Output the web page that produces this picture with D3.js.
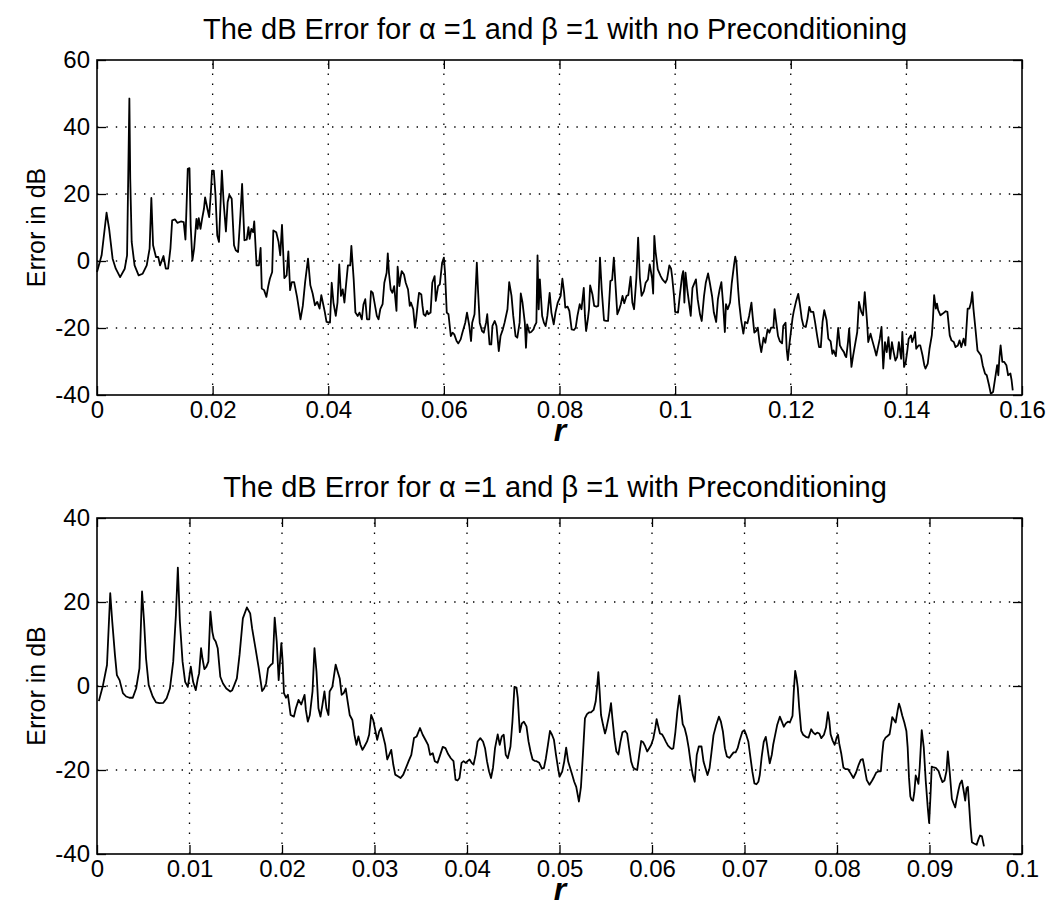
<!DOCTYPE html>
<html>
<head>
<meta charset="utf-8">
<script src="https://cdn.jsdelivr.net/npm/d3@7"></script>
<style>
body{margin:0;background:#fff}
text{font-family:"Liberation Sans",Arial,Helvetica,sans-serif;fill:#000}
</style>
</head>
<body>
<svg id="fig" width="1053" height="907"></svg>
<script>
// tick values for both panels
const topXTicks = [0, 0.02, 0.04, 0.06, 0.08, 0.1, 0.12, 0.14, 0.16];
const topYTicks = [-40, -20, 0, 20, 40, 60];
const botXTicks = [0, 0.01, 0.02, 0.03, 0.04, 0.05, 0.06, 0.07, 0.08, 0.09, 0.1];
const botYTicks = [-40, -20, 0, 20, 40];

const topTitle = "The dB Error for \u03b1 =1 and \u03b2 =1 with no Preconditioning";
const botTitle = "The dB Error for \u03b1 =1 and \u03b2 =1 with Preconditioning";

// [r, error in dB], no preconditioning
const noPrecond = [
[0.0000,-3.3],[0.0008,1.7],[0.00165,14.4],[0.0021,9.6],[0.0027,0.7],[0.00325,-2.3],[0.0040,-4.8],[0.0048,-2.3],
[0.0052,1.7],[0.0056,48.5],[0.00575,24.5],[0.0060,5.7],[0.0065,-1.3],[0.0072,-4.3],[0.0079,-3.8],[0.0086,-1.3],
[0.0091,3.7],[0.0094,18.8],[0.0097,4.7],[0.0102,1.2],[0.0106,1.2],[0.0109,-1.3],[0.0115,1.5],[0.0119,-2.3],
[0.0123,-2.3],[0.0127,3.7],[0.0130,12.1],[0.0135,12.4],[0.0139,11.4],[0.0145,11.8],[0.0150,11.6],[0.0153,6.4],
[0.0157,27.5],[0.0160,27.7],[0.0162,10.6],[0.0165,0.2],[0.0168,3.7],[0.0172,12.6],[0.0174,9.6],[0.0176,12.8],
[0.0179,9.6],[0.0182,12.8],[0.0185,15.6],[0.0187,19.0],[0.0191,15.6],[0.0194,13.1],[0.0197,20.5],[0.0199,27.0],
[0.0202,27.0],[0.0205,19.5],[0.0208,7.6],[0.0211,5.7],[0.0216,27.0],[0.0219,17.6],[0.0223,8.8],[0.0226,17.6],
[0.0229,19.7],[0.0233,18.6],[0.0237,4.7],[0.0240,3.2],[0.0244,2.7],[0.0248,13.6],[0.0251,23.0],[0.0255,6.2],
[0.0259,6.4],[0.0262,10.1],[0.0264,6.6],[0.0267,9.6],[0.0270,8.6],[0.0272,11.8],[0.0276,-1.3],[0.0280,-1.3],
[0.0283,3.9],[0.0285,-8.2],[0.0289,-8.7],[0.0293,-10.7],[0.0296,-7.7],[0.0299,-5.3],[0.0303,-3.3],[0.0305,9.1],
[0.0310,8.6],[0.0314,5.7],[0.0317,1.7],[0.0320,10.8],[0.0324,-5.1],[0.0328,-4.3],[0.0331,2.9],[0.0334,-8.7],
[0.0337,-6.3],[0.0341,-6.3],[0.0346,-10.7],[0.0352,-17.4],[0.0356,-13.4],[0.0360,-6.3],[0.0365,0.7],[0.0369,-7.2],
[0.0373,-9.7],[0.0377,-13.2],[0.0381,-12.2],[0.0385,-14.2],[0.0388,-10.2],[0.0391,-12.7],[0.0394,-15.2],[0.0397,-18.2],
[0.0403,-18.4],[0.0406,-6.5],[0.0409,-12.4],[0.0413,-16.4],[0.0416,-12.4],[0.0419,-1.0],[0.0422,-10.4],[0.0425,-8.5],
[0.0428,-12.4],[0.0430,-8.5],[0.0434,-1.3],[0.0438,-1.3],[0.0440,4.5],[0.0444,-5.5],[0.0447,-15.4],[0.0451,-16.4],
[0.0454,-15.4],[0.0458,-17.4],[0.0461,-12.9],[0.0464,-11.4],[0.0467,-17.4],[0.0471,-17.4],[0.0474,-9.0],[0.0477,-9.5],
[0.0480,-12.4],[0.0484,-16.4],[0.0487,-17.4],[0.0490,-14.4],[0.0494,-12.9],[0.0497,-6.5],[0.0501,-3.5],[0.0503,2.3],
[0.0505,-3.5],[0.0508,-8.5],[0.0511,-9.5],[0.0514,-7.5],[0.0518,-14.9],[0.0520,-1.7],[0.0523,-7.5],[0.0525,-5.0],
[0.0527,-3.0],[0.0531,-4.0],[0.0534,-6.5],[0.0538,-8.5],[0.0541,-13.4],[0.0543,-12.4],[0.0547,-14.4],[0.0550,-19.9],
[0.0552,-17.4],[0.0555,-12.4],[0.0557,-9.5],[0.0561,-10.0],[0.0563,-13.4],[0.0565,-15.9],[0.0568,-16.4],[0.0571,-14.9],
[0.0573,-15.9],[0.0577,-15.4],[0.0580,-6.5],[0.0584,-4.5],[0.0586,-11.9],[0.0590,-7.5],[0.0593,-7.0],[0.0597,-0.5],
[0.0600,1.0],[0.0602,-3.5],[0.0605,-15.4],[0.0608,-15.9],[0.0612,-22.4],[0.0615,-21.4],[0.0618,-21.9],[0.0622,-23.9],
[0.0625,-24.6],[0.0629,-23.4],[0.0632,-21.4],[0.0637,-18.4],[0.0640,-15.4],[0.0644,-19.4],[0.0647,-23.9],[0.0649,-18.4],
[0.0653,-15.9],[0.0657,-0.5],[0.0659,-8.5],[0.0662,-18.4],[0.0666,-20.9],[0.0669,-21.4],[0.0673,-18.4],[0.0675,-15.9],
[0.0679,-24.9],[0.0682,-24.9],[0.0684,-19.4],[0.0688,-17.9],[0.0691,-19.4],[0.0695,-26.9],[0.0698,-22.4],[0.0702,-20.4],
[0.0705,-18.4],[0.0710,-14.4],[0.0713,-6.3],[0.0717,-10.4],[0.0720,-16.4],[0.0724,-22.4],[0.0727,-22.9],[0.0731,-18.4],
[0.0733,-9.7],[0.0736,-12.4],[0.0740,-18.4],[0.0742,-25.9],[0.0744,-18.9],[0.0748,-21.4],[0.0751,-21.2],[0.0755,-20.4],
[0.0757,-19.4],[0.0760,-18.4],[0.0762,1.7],[0.0764,-14.4],[0.0766,-5.5],[0.0770,-16.4],[0.0773,-18.4],[0.0776,-19.4],
[0.0779,-16.4],[0.0783,-9.5],[0.0786,-15.4],[0.0790,-18.9],[0.0793,-15.4],[0.0797,-12.4],
[0.0802,-10.4],[0.0805,-5.3],[0.0808,-9.5],[0.0810,-13.9],[0.0814,-13.6],[0.0817,-14.9],[0.0821,-20.4],[0.0825,-20.6],
[0.0828,-19.9],[0.0831,-16.4],[0.0835,-12.9],[0.0838,-14.4],[0.0842,-8.0],[0.0844,-16.4],[0.0846,-20.9],[0.0849,-17.4],
[0.0851,-14.4],[0.0853,-7.3],[0.0857,-10.0],[0.0860,-13.4],[0.0864,-13.6],[0.0867,-13.4],[0.0870,1.0],[0.0873,-8.5],
[0.0877,-17.7],[0.0881,-17.9],[0.0884,-17.9],[0.0888,-6.0],[0.0891,-5.7],[0.0894,1.0],[0.0897,-7.5],[0.0900,-15.9],
[0.0903,-14.6],[0.0906,-12.9],[0.0909,-10.4],[0.0912,-12.6],[0.0916,-10.4],[0.0919,-10.2],[0.0923,-4.7],[0.0926,-12.4],
[0.0929,-14.4],[0.0933,-5.0],[0.0936,7.0],[0.0939,-5.0],[0.0942,-10.4],[0.0946,-9.0],[0.0949,-6.5],[0.0953,-5.5],
[0.0956,-1.0],[0.0960,-5.0],[0.0962,-9.7],[0.0964,7.5],[0.0966,3.0],[0.0970,-2.5],[0.0975,-4.5],[0.0978,-5.5],
[0.0983,-6.5],[0.0986,-5.5],[0.0990,-1.3],[0.0993,-2.3],[0.0995,-5.0],[0.0998,-10.4],[0.1000,-15.2],[0.1005,-15.4],
[0.1008,-10.4],[0.1012,-4.5],[0.1014,-3.0],[0.1016,-12.4],[0.1018,-3.5],[0.1021,-8.5],[0.1024,-12.4],[0.1027,-16.4],
[0.1030,-8.0],[0.1036,-5.5],[0.1039,-11.4],[0.1043,-15.9],[0.1046,-17.9],[0.1050,-10.4],[0.1053,-6.5],[0.1057,-3.7],
[0.1060,-6.5],[0.1064,-10.6],[0.1067,-15.4],[0.1071,-18.2],[0.1074,-11.4],[0.1077,-8.5],[0.1080,-6.3],[0.1083,-12.9],
[0.1086,-21.2],[0.1088,-12.9],[0.1091,-14.4],[0.1095,-12.4],[0.1098,-6.5],[0.1102,-1.0],[0.1104,1.3],[0.1106,-0.5],
[0.1109,-8.5],[0.1111,-12.9],[0.1114,-17.4],[0.1118,-21.7],[0.1121,-18.2],[0.1125,-18.6],[0.1128,-16.4],[0.1132,-12.4],
[0.1134,-16.4],[0.1137,-21.4],[0.1140,-20.9],[0.1143,-19.9],[0.1146,-24.2],[0.1149,-27.2],[0.1153,-22.9],[0.1156,-24.4],
[0.1160,-20.4],[0.1163,-21.4],[0.1166,-19.9],[0.1170,-19.9],[0.1172,-14.4],[0.1175,-18.4],[0.1178,-22.4],[0.1181,-23.9],
[0.1185,-24.6],[0.1187,-19.4],[0.1191,-18.4],[0.1193,-26.4],[0.1195,-29.6],[0.1198,-24.4],
[0.1203,-17.2],[0.1205,-15.2],[0.1209,-12.2],[0.1213,-9.8],[0.1216,-13.2],[0.1219,-17.2],[0.1222,-19.4],[0.1226,-19.7],
[0.1229,-17.2],[0.1232,-13.7],[0.1235,-15.2],[0.1239,-15.2],[0.1242,-18.2],[0.1246,-22.7],[0.1249,-25.7],[0.1252,-25.7],
[0.1255,-18.2],[0.1258,-14.7],[0.1262,-17.7],[0.1265,-23.2],[0.1269,-24.0],[0.1272,-27.7],[0.1274,-26.7],[0.1278,-28.4],
[0.1280,-24.2],[0.1282,-20.0],[0.1285,-25.2],[0.1288,-26.2],[0.1292,-27.2],[0.1294,-28.2],[0.1296,-28.7],[0.1299,-24.2],
[0.1301,-20.2],[0.1303,-26.2],[0.1305,-31.6],[0.1308,-28.2],[0.1311,-25.2],[0.1315,-21.2],[0.1318,-12.2],[0.1322,-15.2],
[0.1325,-16.2],[0.1328,-9.3],[0.1332,-18.2],[0.1334,-24.2],[0.1338,-21.7],[0.1341,-23.7],[0.1345,-26.2],[0.1348,-28.2],
[0.1351,-25.7],[0.1354,-23.2],[0.1357,-19.7],[0.1360,-32.1],[0.1363,-24.2],[0.1366,-27.2],[0.1369,-22.7],[0.1372,-29.2],
[0.1375,-24.2],[0.1378,-27.2],[0.1381,-29.7],[0.1384,-28.7],[0.1387,-24.2],[0.1391,-29.2],[0.1393,-21.2],[0.1396,-31.6],
[0.1399,-30.1],[0.1402,-26.2],[0.1404,-23.2],[0.1408,-22.2],[0.1410,-24.2],[0.1413,-22.7],[0.1415,-21.2],[0.1417,-26.2],
[0.1421,-25.2],[0.1424,-25.2],[0.1428,-28.2],[0.1431,-31.1],[0.1433,-32.1],[0.1437,-30.6],[0.1440,-26.2],[0.1444,-22.2],
[0.1446,-17.2],[0.1448,-10.2],[0.1451,-14.2],[0.1453,-12.7],[0.1455,-14.7],[0.1459,-16.2],[0.1463,-15.7],[0.1468,-15.0],
[0.1471,-15.2],[0.1475,-22.2],[0.1478,-23.7],[0.1482,-24.2],[0.1485,-25.7],[0.1489,-25.2],[0.1492,-23.7],[0.1495,-25.7],
[0.1499,-23.2],[0.1502,-25.2],[0.1506,-14.2],[0.1509,-14.2],[0.1512,-12.2],[0.1514,-9.3],[0.1516,-14.2],[0.1520,-21.2],
[0.1523,-26.7],[0.1527,-27.7],[0.1529,-28.2],[0.1532,-31.1],[0.1536,-33.6],[0.1539,-34.1],[0.1543,-37.1],[0.1546,-39.6],
[0.1550,-39.1],[0.1553,-35.6],[0.1557,-31.1],[0.1559,-34.1],[0.1561,-28.7],[0.1563,-25.2],[0.1566,-30.1],[0.1569,-30.1],
[0.1573,-31.1],[0.1576,-34.1],[0.1580,-33.6],[0.1582,-35.6],[0.1584,-38.6]
];

// [r, error in dB], with preconditioning
const withPrecond = [
[0.0002,-3.6],[0.00065,0.2],[0.00108,5.0],[0.00143,22.1],[0.00165,15.3],[0.00194,7.4],[0.00215,2.6],[0.00244,1.4],
[0.00280,-1.7],[0.00315,-2.5],[0.00351,-2.8],[0.00387,-2.8],[0.00423,-0.6],[0.00459,4.2],[0.00487,22.5],[0.00509,15.3],
[0.00530,6.6],[0.00559,0.2],[0.00602,-2.5],[0.00638,-3.9],[0.00674,-4.1],[0.00717,-4.0],[0.00753,-2.9],[0.00788,-0.6],
[0.00824,5.8],[0.00853,16.9],[0.00874,28.2],[0.00896,15.3],[0.00925,5.8],[0.00953,1.0],[0.00982,-0.2],[0.01014,4.6],
[0.01039,1.0],[0.01068,-1.0],[0.01090,1.8],[0.01104,3.0],[0.01125,9.0],[0.01140,6.6],[0.01161,4.0],[0.01183,4.6],
[0.01204,5.8],[0.01226,17.7],[0.01247,12.9],[0.01262,11.3],[0.01283,10.6],[0.01305,9.0],[0.01333,2.2],[0.01362,0.6],
[0.01398,-0.6],[0.01441,-1.3],[0.01462,-1.0],[0.01484,0.2],[0.01512,1.8],[0.01541,7.4],[0.01577,16.1],[0.01620,18.7],
[0.01656,17.3],[0.01677,13.7],[0.01713,9.0],[0.01749,4.2],[0.01785,-1.2],[0.01806,-0.6],[0.01828,0.6],[0.01849,4.2],
[0.01878,5.0],[0.01900,5.4],[0.01921,16.3],[0.01943,10.6],[0.01964,1.4],[0.01993,10.2],[0.02007,5.8],[0.02021,-1.7],
[0.02043,-2.8],[0.02064,-2.1],[0.02093,-6.9],[0.02129,-7.3],[0.02150,-5.3],[0.02179,-3.3],[0.02208,-4.4],[0.02244,-2.1],
[0.02258,-5.7],[0.02279,-8.5],[0.02301,-6.9],[0.02330,-1.3],[0.02351,9.0],[0.02373,3.4],[0.02394,-5.3],[0.02416,-7.3],
[0.02437,-4.5],[0.02459,-1.3],[0.02480,-5.3],[0.02502,-6.9],
[0.02515,-1.3],[0.02544,-0.2],[0.02558,1.8],[0.02580,5.1],[0.02602,3.4],[0.02624,1.8],[0.02645,-2.1],[0.02667,-1.7],
[0.02689,-0.6],[0.02710,-3.7],[0.02732,-6.9],[0.02761,-8.1],[0.02783,-11.6],[0.02805,-14.0],[0.02826,-12.0],[0.02848,-14.0],
[0.02870,-15.2],[0.02891,-14.4],[0.02920,-13.2],[0.02942,-11.6],[0.02964,-6.9],[0.02986,-8.1],[0.03007,-10.4],[0.03029,-12.8],
[0.03051,-10.8],[0.03072,-10.0],[0.03094,-12.0],[0.03116,-14.0],[0.03138,-17.5],[0.03159,-16.4],[0.03181,-15.2],[0.03203,-18.7],
[0.03224,-21.1],[0.03253,-21.5],[0.03282,-21.9],[0.03311,-21.1],[0.03340,-19.5],[0.03369,-17.9],[0.03398,-16.4],[0.03427,-12.4],
[0.03456,-12.0],[0.03492,-10.0],[0.03521,-11.6],[0.03550,-12.8],[0.03579,-14.0],[0.03601,-16.4],[0.03630,-16.0],[0.03652,-17.9],
[0.03681,-18.3],[0.03710,-16.4],[0.03738,-14.5],[0.03767,-14.8],[0.03796,-16.2],[0.03825,-17.2],[0.03854,-17.9],[0.03876,-22.3],
[0.03898,-22.5],[0.03919,-21.9],[0.03941,-18.3],[0.03963,-17.9],[0.03985,-18.3],[0.04006,-17.9],[0.04028,-17.5],[0.04050,-18.3],
[0.04071,-18.7],[0.04093,-16.4],[0.04115,-13.2],[0.04144,-12.4],[0.04173,-13.2],[0.04195,-14.8],[0.04216,-17.9],[0.04238,-20.3],
[0.04260,-21.9],[0.04281,-19.5],[0.04303,-14.8],[0.04332,-11.5],[0.04354,-14.0],[0.04376,-12.0],[0.04397,-11.6],[0.04419,-16.4],
[0.04441,-17.2],[0.04470,-14.4],[0.04491,-8.5],[0.04513,-0.2],[0.04535,-0.4],[0.04549,-2.9],[0.04571,-11.0],[0.04593,-8.9],
[0.04615,-8.5],[0.04643,-9.6],[0.04665,-13.2],[0.04687,-15.6],[0.04709,-17.5],[0.04730,-17.8],[0.04752,-17.9],[0.04781,-18.3],
[0.04810,-19.7],[0.04832,-19.5],[0.04853,-17.2],[0.04875,-14.0],[0.04897,-10.7],[0.04919,-11.6],[0.04940,-12.8],[0.04962,-16.4],
[0.04984,-19.5],
[0.05000,-21.6],[0.05029,-20.4],[0.05051,-18.0],[0.05072,-14.7],[0.05094,-18.0],[0.05116,-19.6],[0.05138,-21.2],[0.05159,-22.8],
[0.05181,-24.0],[0.05210,-27.5],[0.05232,-24.0],[0.05253,-16.4],[0.05275,-7.7],[0.05297,-6.7],[0.05319,-6.3],[0.05340,-6.3],
[0.05369,-5.7],[0.05391,-3.7],[0.05405,-0.6],[0.05420,3.3],[0.05434,-1.3],[0.05449,-6.9],[0.05471,-9.3],[0.05492,-11.3],
[0.05507,-10.1],[0.05529,-7.7],[0.05543,-6.1],[0.05557,-4.1],[0.05572,-7.7],[0.05594,-12.5],[0.05615,-15.6],[0.05637,-16.3],
[0.05659,-13.3],[0.05681,-11.0],[0.05710,-10.7],[0.05731,-11.3],[0.05753,-14.8],[0.05775,-18.0],[0.05796,-19.4],[0.05818,-19.8],
[0.05840,-20.0],[0.05862,-16.4],[0.05883,-13.1],[0.05905,-13.4],[0.05927,-14.4],[0.05948,-15.6],[0.05970,-14.8],[0.05992,-14.0],
[0.06014,-12.5],[0.06035,-10.1],[0.06050,-7.9],[0.06064,-9.3],[0.06086,-11.3],[0.06108,-11.5],[0.06129,-12.3],[0.06151,-13.3],
[0.06173,-14.2],[0.06195,-14.7],[0.06216,-15.0],[0.06231,-14.8],[0.06253,-10.9],[0.06274,-6.1],[0.06296,-2.3],[0.06318,-6.3],
[0.06332,-9.1],[0.06354,-10.1],[0.06376,-12.1],[0.06397,-14.8],[0.06419,-18.4],[0.06441,-21.2],[0.06462,-22.8],[0.06484,-16.4],
[0.06506,-14.4],[0.06535,-14.4],[0.06557,-18.0],[0.06578,-19.6],[0.06600,-21.2],[0.06622,-19.6],[0.06643,-15.8],[0.06665,-11.7],
[0.06694,-9.3],[0.06723,-7.3],[0.06745,-8.5],[0.06767,-10.9],[0.06788,-14.8],[0.06810,-16.8],[0.06839,-17.1],[0.06861,-16.4],
[0.06882,-15.8],[0.06904,-15.8],[0.06926,-14.8],[0.06948,-12.9],[0.06977,-10.9],[0.06998,-10.5],[0.07020,-11.7],[0.07042,-13.3],
[0.07063,-16.8],[0.07085,-20.4],[0.07107,-23.2],[0.07129,-23.4],[0.07150,-22.8],[0.07165,-21.2],[0.07186,-16.8],[0.07208,-13.3],
[0.07230,-12.1],[0.07244,-14.0],[0.07259,-16.4],[0.07273,-18.4],[0.07295,-16.4],[0.07310,-14.0],[0.07331,-11.7],[0.07353,-9.3],
[0.07382,-7.3],[0.07404,-8.5],[0.07425,-9.7],[0.07447,-8.9],[0.07469,-8.5],[0.07490,-8.7],
[0.07519,-7.1],[0.07533,-1.2],[0.07548,3.6],[0.07562,2.0],[0.07576,-0.4],[0.07591,-5.1],[0.07613,-10.7],[0.07634,-11.6],
[0.07663,-12.1],[0.07692,-12.3],[0.07721,-10.3],[0.07743,-11.1],[0.07765,-11.5],[0.07786,-11.1],[0.07808,-11.3],[0.07830,-12.4],
[0.07859,-11.6],[0.07881,-9.9],[0.07902,-6.2],[0.07917,-8.3],[0.07931,-11.5],[0.07953,-13.0],[0.07975,-14.0],[0.07996,-12.3],
[0.08011,-11.6],[0.08025,-13.8],[0.08047,-16.2],[0.08069,-19.4],[0.08091,-19.8],[0.08119,-19.8],[0.08148,-20.8],[0.08177,-21.9],
[0.08206,-20.6],[0.08235,-18.7],[0.08257,-17.6],[0.08279,-17.4],[0.08300,-19.8],[0.08322,-22.4],[0.08351,-23.5],[0.08380,-22.5],
[0.08402,-21.6],[0.08424,-20.6],[0.08453,-20.3],[0.08474,-20.3],[0.08489,-16.2],[0.08503,-13.2],[0.08525,-12.3],[0.08547,-11.9],
[0.08568,-11.5],[0.08583,-9.5],[0.08597,-7.4],[0.08612,-7.9],[0.08634,-8.7],[0.08655,-5.9],[0.08670,-4.2],[0.08684,-5.1],
[0.08706,-7.1],[0.08728,-8.7],[0.08750,-10.7],[0.08764,-14.6],[0.08778,-21.7],[0.08793,-26.3],[0.08807,-27.1],[0.08822,-27.3],
[0.08836,-25.3],[0.08851,-21.3],[0.08865,-22.1],[0.08880,-23.3],[0.08894,-19.4],[0.08916,-10.5],[0.08938,-14.6],[0.08959,-22.5],
[0.08981,-28.9],[0.08996,-32.6],[0.09010,-26.5],[0.09024,-19.2],[0.09046,-19.4],[0.09068,-19.5],[0.09097,-20.2],[0.09119,-21.7],
[0.09140,-22.9],[0.09162,-22.5],[0.09184,-20.2],[0.09198,-15.6],[0.09220,-20.9],[0.09242,-26.9],[0.09263,-28.1],[0.09278,-28.9],
[0.09292,-27.1],[0.09314,-24.7],[0.09329,-23.3],[0.09350,-22.5],[0.09372,-25.3],[0.09386,-27.3],[0.09401,-24.3],[0.09415,-24.0],
[0.09430,-28.9],[0.09444,-33.6],[0.09459,-37.2],[0.09481,-37.5],[0.09510,-37.8],[0.09531,-36.4],[0.09546,-35.6],[0.09567,-35.8],
[0.09589,-38.2]
];

const svg = d3.select("#fig");
svg.append("rect").attr("width", 1053).attr("height", 907).attr("fill", "#fff");

const plotLeft = 97, plotRight = 1022;

function drawPanel(cfg) {
    var x = d3.scaleLinear().domain([cfg.xTicks[0], cfg.xTicks[cfg.xTicks.length - 1]]).range([plotLeft, plotRight]);
    var y = d3.scaleLinear().domain([cfg.yTicks[0], cfg.yTicks[cfg.yTicks.length - 1]]).range([cfg.bottom, cfg.top]);
    var g = svg.append("g");

    // dotted grid (matlab style)
    g.selectAll(".vgrid").data(cfg.xTicks.slice(1, -1)).join("line")
        .attr("x1", d => x(d)).attr("x2", d => x(d))
        .attr("y1", cfg.bottom).attr("y2", cfg.top)
        .attr("stroke", "#000").attr("stroke-width", 1.3).attr("stroke-dasharray", "1.4,8.6");
    g.selectAll(".hgrid").data(cfg.yTicks.slice(1, -1)).join("line")
        .attr("x1", plotLeft).attr("x2", plotRight)
        .attr("y1", d => y(d)).attr("y2", d => y(d))
        .attr("stroke", "#000").attr("stroke-width", 1.3).attr("stroke-dasharray", "1.4,8");

    var line = d3.line().x(d => x(d[0])).y(d => y(d[1]));
    g.append("path").datum(cfg.data)
        .attr("d", line).attr("fill", "none")
        .attr("stroke", "#000").attr("stroke-width", 1.8).attr("stroke-linejoin", "round");

    var fmt = d => String(d);
    var axes = [
        g.append("g").attr("transform", "translate(0," + cfg.bottom + ")")
            .call(d3.axisBottom(x).tickValues(cfg.xTicks).tickSize(-9).tickPadding(6).tickFormat(fmt)),
        g.append("g").attr("transform", "translate(0," + cfg.top + ")")
            .call(d3.axisTop(x).tickValues(cfg.xTicks).tickSize(-9).tickFormat("")),
        g.append("g").attr("transform", "translate(" + plotLeft + ",0)")
            .call(d3.axisLeft(y).tickValues(cfg.yTicks).tickSize(-9).tickPadding(7).tickFormat(fmt)),
        g.append("g").attr("transform", "translate(" + plotRight + ",0)")
            .call(d3.axisRight(y).tickValues(cfg.yTicks).tickSize(-9).tickFormat(""))
    ];
    axes.forEach(function (a) {
        a.select(".domain").remove();
        a.selectAll("line").attr("stroke-width", 1.3);
        a.selectAll("text").attr("font-size", 24).attr("font-family", "Liberation Sans, Arial, sans-serif");
    });

    g.append("rect")
        .attr("x", plotLeft).attr("y", cfg.top)
        .attr("width", plotRight - plotLeft).attr("height", cfg.bottom - cfg.top)
        .attr("fill", "none").attr("stroke", "#000").attr("stroke-width", 1.6);

    g.append("text").attr("x", 555).attr("y", cfg.top - 21)
        .attr("text-anchor", "middle").attr("font-size", 29).text(cfg.title);

    g.append("text")
        .attr("transform", "translate(45," + ((cfg.top + cfg.bottom) / 2) + ") rotate(-90)")
        .attr("text-anchor", "middle").attr("font-size", 25).text("Error in dB");

    g.append("text").attr("x", 560).attr("y", cfg.bottom + 46)
        .attr("text-anchor", "middle").attr("font-size", 32)
        .attr("font-weight", "bold").attr("font-style", "italic").text("r");
}

drawPanel({ data: noPrecond, xTicks: topXTicks, yTicks: topYTicks, top: 60, bottom: 395, title: topTitle });
drawPanel({ data: withPrecond, xTicks: botXTicks, yTicks: botYTicks, top: 518, bottom: 854, title: botTitle });
</script>
</body>
</html>
